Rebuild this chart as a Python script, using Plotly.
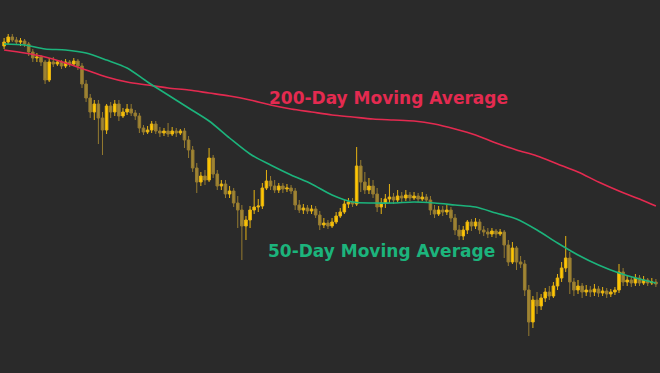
import plotly.graph_objects as go

# --- daily candles (price units) ---
day = list(range(160))
open_ = [334,338,343,340,338,339,336,328,322,323,318,300,318,316,318,314,318,316,319,314,
         296,282,268,276,262,250,274,268,276,264,268,271,267,264,252,248,250,256,249,247,
         249,246,249,247,249,240,230,212,198,204,200,222,206,194,196,186,189,177,170,154,
         160,170,173,174,192,199,194,190,194,191,192,189,175,170,172,169,171,165,155,157,
         154,158,164,168,176,178,176,214,198,190,194,186,173,177,181,183,180,184,182,185,
         182,184,181,183,180,170,166,170,168,170,162,150,144,150,158,154,158,150,148,146,
         149,146,148,135,118,132,118,116,90,58,80,74,82,88,84,94,102,112,122,98,
         90,94,88,90,88,91,87,89,86,88,90,108,98,100,97,102,97,100,97,98]
close = [338,343,340,338,339,336,328,322,323,318,300,318,316,318,314,318,316,319,314,296,
         282,268,276,262,250,274,268,276,264,268,271,267,264,252,248,250,256,249,247,249,
         246,249,247,249,240,230,212,198,204,200,222,206,194,196,186,189,177,170,154,160,
         170,173,174,192,199,194,190,194,191,192,189,175,170,172,169,171,165,155,157,154,
         158,164,168,176,178,176,214,198,190,194,186,173,177,181,183,180,184,182,185,182,
         184,181,183,180,170,166,170,168,170,162,150,144,150,158,154,158,150,148,146,149,
         146,148,135,118,132,118,116,90,58,80,74,82,88,84,94,102,112,122,98,90,
         94,88,90,88,91,87,89,86,88,90,108,98,100,97,102,97,100,97,98,96]
high = [342,346,346,343,342,341,338,331,327,325,320,322,323,320,320,321,320,322,321,317,
        300,286,280,280,268,276,278,280,280,272,276,276,270,267,255,254,259,259,253,252,
        257,253,252,251,252,244,234,217,208,210,232,225,210,200,200,194,192,184,175,164,
        174,190,181,197,210,204,200,197,197,196,195,192,180,176,175,175,174,169,162,160,
        162,168,172,180,182,182,233,220,208,202,200,192,182,186,196,187,190,188,190,188,
        188,187,188,186,184,175,174,174,175,173,166,155,154,160,161,162,161,154,152,152,
        151,151,150,140,138,134,124,120,95,84,88,86,92,94,98,106,118,144,128,102,
        100,97,95,94,96,94,93,92,91,93,116,112,105,104,106,105,104,102,102,101]
low = [331,336,338,335,334,333,324,318,318,314,296,298,313,314,311,312,313,314,310,292,
       278,262,260,236,225,246,262,264,259,262,265,264,260,247,245,246,247,246,243,244,
       243,244,243,245,232,222,208,187,194,195,198,202,190,190,182,182,173,152,120,140,
       152,166,168,171,190,190,187,187,187,188,186,170,167,166,166,166,162,150,152,151,
       152,156,162,166,172,173,174,188,186,186,182,168,166,172,177,176,178,178,179,179,
       180,178,179,177,165,162,164,164,165,158,145,140,140,146,149,151,146,144,142,143,
       142,144,122,114,116,110,112,84,44,52,66,70,78,80,82,90,98,108,86,84,
       86,82,84,83,84,83,84,82,83,85,87,94,94,93,94,94,95,94,95,93]

# --- moving averages sampled every few sessions ---
ma_day = [0,5,10,15,20,25,30,35,40,45,50,55,60,65,70,75,80,85,90,95,100,105,110,115,
          120,125,130,135,140,145,150,155,159]
ma50 = [336,335,331,330,327,320,312,298,285,272,259,242,226,215,205,196,185,178,177,177,
        178,177,175,173,167,161,150,137,125,115,107,101,97]
ma200 = [330,327,323,317,310,303,298,295,292,290,287,284,280,275,271,268,265,263,261,260,
         259,256,251,245,237,230,224,216,208,198,189,181,174]

labels = ["200-Day Moving Average", "50-Day Moving Average"]

BG = "#2a2a2a"
RED = "#e42a50"
GREEN = "#1cb47c"

fig = go.Figure()
fig.add_trace(go.Candlestick(
    x=day, open=open_, high=high, low=low, close=close,
    increasing=dict(line=dict(color="#e6b312", width=1), fillcolor="#ffc800"),
    decreasing=dict(line=dict(color="#957b30", width=1), fillcolor="#a08534"),
    whiskerwidth=0, showlegend=False, hoverinfo="skip",
))
fig.add_trace(go.Scatter(x=ma_day, y=ma200, mode="lines", line=dict(color=RED, width=1.6, shape="spline", smoothing=0.8),
                         showlegend=False, hoverinfo="skip"))
fig.add_trace(go.Scatter(x=ma_day, y=ma50, mode="lines", line=dict(color=GREEN, width=1.6, shape="spline", smoothing=0.8),
                         showlegend=False, hoverinfo="skip"))

fig.add_annotation(text=labels[0], xref="paper", yref="paper", x=388/660, y=1-98/373,
                   xanchor="center", yanchor="middle", showarrow=False,
                   font=dict(family="DejaVu Sans", size=17, color=RED, weight="bold"))
fig.add_annotation(text=labels[1], xref="paper", yref="paper", x=381/660, y=1-251/373,
                   xanchor="center", yanchor="middle", showarrow=False,
                   font=dict(family="DejaVu Sans", size=17, color=GREEN, weight="bold"))

fig.update_layout(
    width=660, height=373, margin=dict(l=0, r=0, t=0, b=0),
    paper_bgcolor=BG, plot_bgcolor=BG, boxgap=0.1,
    xaxis=dict(range=[-1, 160], visible=False, rangeslider=dict(visible=False), fixedrange=True),
    yaxis=dict(range=[7, 380], visible=False, fixedrange=True),
)
fig.write_html("out.html", config={"displayModeBar": False},
               post_script="document.body.style.margin='0';document.body.style.background='#2a2a2a';")
